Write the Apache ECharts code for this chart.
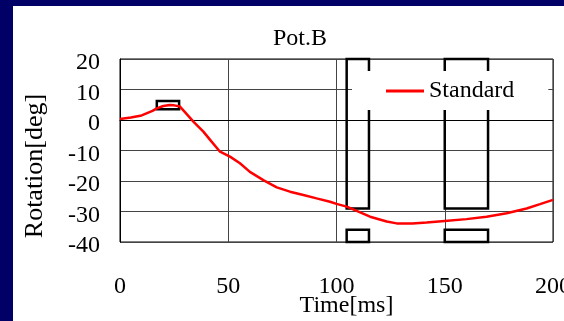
<!DOCTYPE html>
<html>
<head>
<meta charset="utf-8">
<script src="https://cdn.jsdelivr.net/npm/echarts@6/dist/echarts.min.js"></script>
<style>
  html, body { margin: 0; padding: 0; background: #000066; width: 564px; height: 321px; overflow: hidden; }
  #chart { position: absolute; left: 13px; top: 6px; width: 551px; height: 315px; background: #ffffff; }
</style>
</head>
<body>
<div id="chart"></div>
<script>
// ---- data ----
const chartTitle = 'Pot.B';
const seriesName = 'Standard';
const xAxisName = 'Time[ms]';
const yAxisName = 'Rotation[deg]';

const timeMs = [0, 5, 10, 15, 17, 20, 23, 25, 27.7, 30, 34, 38.5, 42.3, 46.2, 50.8, 55.4, 60, 66.2, 72.4, 78.5, 84.7, 90.8, 97, 100, 104.7, 107.7, 115.5, 123.2, 127.8, 135, 141.6, 150, 160, 169.3, 178.6, 187.8, 194, 200];
const rotationDeg = [0.3, 0.8, 1.5, 3.0, 3.8, 4.6, 4.9, 4.8, 4.4, 2.6, -0.6, -3.8, -7.1, -10.4, -12.0, -14.2, -17.0, -19.7, -22.1, -23.5, -24.6, -25.7, -26.8, -27.5, -28.4, -29.3, -31.7, -33.3, -33.9, -33.9, -33.6, -33.1, -32.5, -31.7, -30.6, -29.0, -27.6, -26.2];

// outlined boxes: [xStart, yTop, xEnd, yBottom]
const boxXStart = [17, 104.7, 104.7, 150, 150];
const boxYTop = [6.2, 20, -36, 20, -36];
const boxXEnd = [27.3, 115, 115, 170, 170];
const boxYBottom = [3.5, -29, -40, -29, -40];

const xTicks = { min: 0, max: 200, interval: 50 };
const yTicks = { min: -40, max: 20, interval: 10 };

// ---- build chart ----
const serif = "'Liberation Serif', 'Times New Roman', serif";
const lineData = timeMs.map((t, i) => [t, rotationDeg[i]]);
const boxes = boxXStart.map((x0, i) => [
  { coord: [x0, boxYTop[i]] },
  { coord: [boxXEnd[i], boxYBottom[i]] }
]);

const chart = echarts.init(document.getElementById('chart'), null, { renderer: 'canvas' });
chart.setOption({
  animation: false,
  backgroundColor: '#ffffff',
  textStyle: { fontFamily: serif, color: '#000' },
  title: {
    text: chartTitle,
    left: 260,
    top: 21,
    padding: 0,
    textStyle: { fontFamily: serif, fontSize: 24, fontWeight: 'normal', color: '#000' }
  },
  legend: {
    data: [seriesName],
    left: 339,
    top: 65,
    backgroundColor: '#ffffff',
    padding: [8, 34, 7, 34],
    icon: 'rect',
    itemWidth: 38,
    itemHeight: 3,
    itemGap: 5,
    itemStyle: { color: '#ff0000', borderWidth: 0 },
    textStyle: { fontFamily: serif, fontSize: 24, color: '#000' },
    z: 10
  },
  grid: {
    left: 107, top: 53, right: 11, bottom: 79,
    outerBoundsMode: 'none',
    containLabel: false,
    show: true, borderColor: '#000', borderWidth: 1
  },
  xAxis: {
    type: 'value',
    min: xTicks.min, max: xTicks.max, interval: xTicks.interval,
    name: xAxisName,
    nameLocation: 'middle',
    nameGap: 52,
    nameMoveOverlap: false,
    nameTextStyle: { fontFamily: serif, fontSize: 24, color: '#000', padding: [0, 0, 0, 20] },
    axisLine: { show: true, lineStyle: { color: '#000', width: 1 } },
    axisTick: { show: false },
    axisLabel: { margin: 33, fontFamily: serif, fontSize: 24, color: '#000', hideOverlap: false },
    splitLine: { show: true, lineStyle: { color: '#444', width: 1 } }
  },
  yAxis: {
    type: 'value',
    min: yTicks.min, max: yTicks.max, interval: yTicks.interval,
    name: yAxisName,
    nameLocation: 'middle',
    nameRotate: 90,
    nameGap: 72,
    nameTextStyle: { fontFamily: serif, fontSize: 26, color: '#000', padding: [0, 31, 0, 0] },
    axisLine: { show: true, lineStyle: { color: '#000', width: 1 } },
    axisTick: { show: false },
    axisLabel: { margin: 20, fontFamily: serif, fontSize: 24, color: '#000', verticalAlign: 'top', lineHeight: 8 },
    splitLine: { show: true, lineStyle: { color: '#444', width: 1 } }
  },
  series: [
    {
      name: seriesName,
      type: 'line',
      data: lineData,
      symbol: 'none',
      smooth: false,
      lineStyle: { color: '#ff0000', width: 2.5 },
      itemStyle: { color: '#ff0000' },
      z: 3
    },
    {
      name: 'boxes',
      type: 'line',
      data: [],
      symbol: 'none',
      z: 4,
      markArea: {
        silent: true,
        itemStyle: { color: 'rgba(0,0,0,0)', borderColor: '#000', borderWidth: 2.5 },
        label: { show: false },
        data: boxes
      }
    }
  ]
});
</script>
</body>
</html>
